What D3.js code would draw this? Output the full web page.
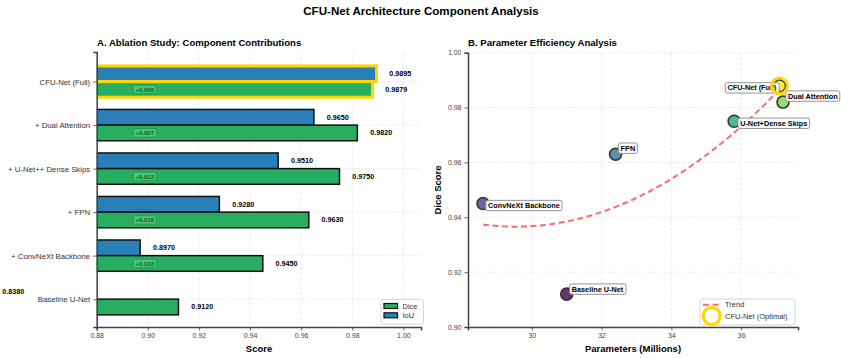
<!DOCTYPE html>
<html><head><meta charset="utf-8">
<script src="https://cdn.jsdelivr.net/npm/d3@7"></script>
<style>body{margin:0;background:#fff} svg{display:block;font-family:"Liberation Sans",Arial,sans-serif} text{fill:#000}</style>
</head><body><svg id="c" width="841" height="359"></svg>
<script>
// ---------- data ----------
const categories = ["Baseline U-Net", "+ ConvNeXt Backbone", "+ FPN", "+ U-Net++ Dense Skips", "+ Dual Attention", "CFU-Net (Full)"];
const diceValues = [0.912, 0.945, 0.963, 0.975, 0.982, 0.9879];
const iouValues  = [0.838, 0.897, 0.928, 0.951, 0.965, 0.9895];
const scoreTicks = [0.88, 0.90, 0.92, 0.94, 0.96, 0.98, 1.00];

const pointNames = ["Baseline U-Net", "ConvNeXt Backbone", "FPN", "U-Net+Dense Skips", "Dual Attention", "CFU-Net (Full)"];
const paramsMillions = [31.0, 28.6, 32.4, 35.8, 37.2, 37.1];
const pointDice = [0.912, 0.945, 0.963, 0.975, 0.982, 0.9879];
const paramTicks = [30, 32, 34, 36];
const diceTicks = [0.90, 0.92, 0.94, 0.96, 0.98, 1.00];

// ---------- layout / style ----------
const C = { dice: "#27ae60", iou: "#2980b9", gold: "#FFD700", spine: "#444", grid: "#dedede", trend: "#ff6b6b" };
const labelOffsets = [[5,-5,"start"],[5,2,"start"],[5,-6,"start"],[6,2,"start"],[5,-6,"start"],[-3,2,"end"]];

const svg = d3.select("#c");
svg.append("text").attr("x", 421).attr("y", 15).attr("text-anchor", "middle")
  .attr("font-size", 11.6).attr("font-weight", "bold").text("CFU-Net Architecture Component Analysis");

// ================= Panel A =================
const A = svg.append("g");
const xA = d3.scaleLinear().domain([0.88, 1.0069]).range([96.7, 421]);
const yA = d3.scaleLinear().domain([-0.64, 5.68]).range([327, 52]);
const bh = 0.36;

A.append("text").attr("x", 97).attr("y", 45.5).attr("font-size", 9.6).attr("font-weight", "bold")
  .text("A. Ablation Study: Component Contributions");

// grid
A.append("g").selectAll("line").data(scoreTicks).join("line")
  .attr("x1", d => xA(d)).attr("x2", d => xA(d)).attr("y1", 52).attr("y2", 327)
  .attr("stroke", C.grid).attr("stroke-width", 0.6).attr("stroke-dasharray", "3,2");
A.append("g").selectAll("line").data(categories).join("line")
  .attr("x1", 96.7).attr("x2", 421).attr("y1", (d,i) => yA(i)).attr("y2", (d,i) => yA(i))
  .attr("stroke", C.grid).attr("stroke-width", 0.6).attr("stroke-dasharray", "3,2");

A.append("clipPath").attr("id", "clipA").append("rect")
  .attr("x", 96.7).attr("y", 40).attr("width", 421 - 96.7).attr("height", 287);
const bars = A.append("g").attr("clip-path", "url(#clipA)");
const last = categories.length - 1;
bars.selectAll("rect.iou").data(iouValues).join("rect").attr("class", "iou")
  .attr("x", xA(0.88) - 2).attr("y", (d,i) => yA(i + bh))
  .attr("width", d => Math.max(0, xA(d) - xA(0.88) + 2)).attr("height", yA(0) - yA(bh))
  .attr("fill", C.iou).attr("stroke", (d,i) => i === last ? C.gold : "#111")
  .attr("stroke-width", (d,i) => i === last ? 3 : 1.5);
bars.selectAll("rect.dice").data(diceValues).join("rect").attr("class", "dice")
  .attr("x", xA(0.88) - 2).attr("y", (d,i) => yA(i))
  .attr("width", d => Math.max(0, xA(d) - xA(0.88) + 2)).attr("height", yA(0) - yA(bh))
  .attr("fill", C.dice).attr("stroke", (d,i) => i === last ? C.gold : "#111")
  .attr("stroke-width", (d,i) => i === last ? 3 : 1.5);

// value labels
const fmt4 = d3.format(".4f");
A.append("g").selectAll("text").data(iouValues).join("text")
  .attr("x", d => xA(d + 0.005)).attr("y", (d,i) => yA(i + bh/2) + 2.5)
  .attr("font-size", 7.2).attr("font-weight", "bold").attr("fill", "#000").text(d => fmt4(d));
A.append("g").selectAll("text").data(diceValues).join("text")
  .attr("x", d => xA(d + 0.005)).attr("y", (d,i) => yA(i - bh/2) + 2.5)
  .attr("font-size", 7.2).attr("font-weight", "bold").attr("fill", "#000").text(d => fmt4(d));

// improvement badges
const badgeData = diceValues.map((d,i) => i === 0 ? null : { i, v: d - diceValues[i-1] }).filter(Boolean);
const bg = A.append("g").selectAll("g").data(badgeData).join("g")
  .attr("transform", d => `translate(${xA(0.8988)},${yA(d.i - bh/2)})`);
bg.append("rect").attr("x", -11.5).attr("y", -4.2).attr("width", 23).attr("height", 8.4).attr("rx", 1.5)
  .attr("fill", "#5ccf84").attr("fill-opacity", 0.7).attr("stroke", "#1e8a47").attr("stroke-width", 0.7);
bg.append("text").attr("text-anchor", "middle").attr("y", 2.2).attr("font-size", 6).attr("font-weight", "bold")
  .style("fill", "#0b5d1e").text(d => "+" + d3.format(".3f")(d.v));

// axes
const axAx = A.append("g").attr("transform", "translate(0,327)")
  .call(d3.axisBottom(xA).tickValues(scoreTicks).tickFormat(d3.format(".2f")).tickSize(3.5).tickPadding(3));
const axAy = A.append("g").attr("transform", "translate(96.7,0)")
  .call(d3.axisLeft(yA).tickValues(d3.range(categories.length)).tickFormat(i => categories[i]).tickSize(3.5).tickPadding(3));
[axAx, axAy].forEach(g => {
  g.select(".domain").attr("stroke", C.spine).attr("stroke-width", 1.5);
  g.selectAll(".tick line").attr("stroke", "#444").attr("stroke-width", 0.8);
  g.selectAll(".tick text").style("fill", "#444").attr("font-family", "Liberation Sans, Arial, sans-serif");
});
axAx.selectAll(".tick text").attr("font-size", 7);
axAy.selectAll(".tick text").attr("font-size", 7.8).style("fill", "#333");
A.append("text").attr("x", 259).attr("y", 351.5).attr("text-anchor", "middle")
  .attr("font-size", 9.5).attr("font-weight", "bold").text("Score");

// legend A
const lgA = A.append("g").attr("transform", "translate(381,299.5)");
lgA.append("rect").attr("width", 42.5).attr("height", 24.5).attr("rx", 2).attr("fill", "#fff").attr("fill-opacity", 0.85)
  .attr("stroke", "#ccc").attr("stroke-width", 0.8);
[["Dice", C.dice], ["IoU", C.iou]].forEach((e, k) => {
  lgA.append("rect").attr("x", 3).attr("y", 4 + k * 9.3).attr("width", 13.5).attr("height", 5)
    .attr("fill", e[1]).attr("stroke", "#111").attr("stroke-width", 1.2);
  lgA.append("text").attr("x", 21.5).attr("y", 9.2 + k * 9.3).attr("font-size", 7.5).style("fill", "#333").text(e[0]);
});

// ================= Panel B =================
const B = svg.append("g");
const xB = d3.scaleLinear().domain([28.17, 37.63]).range([468, 798]);
const yB = d3.scaleLinear().domain([0.90, 1.00]).range([327, 52.7]);

B.append("text").attr("x", 468).attr("y", 45.5).attr("font-size", 9.6).attr("font-weight", "bold")
  .text("B. Parameter Efficiency Analysis");

B.append("g").selectAll("line").data(paramTicks).join("line")
  .attr("x1", d => xB(d)).attr("x2", d => xB(d)).attr("y1", 52.7).attr("y2", 327)
  .attr("stroke", C.grid).attr("stroke-width", 0.6).attr("stroke-dasharray", "3,2");
B.append("g").selectAll("line").data(diceTicks).join("line")
  .attr("x1", 468).attr("x2", 798).attr("y1", d => yB(d)).attr("y2", d => yB(d))
  .attr("stroke", C.grid).attr("stroke-width", 0.6).attr("stroke-dasharray", "3,2");

// quadratic trend fit (least squares) from data
function polyfit2(xs, ys) {
  const n = xs.length; let S = Array(5).fill(0), T = Array(3).fill(0);
  for (let i = 0; i < n; i++) { for (let k = 0; k < 5; k++) S[k] += Math.pow(xs[i], k); for (let k = 0; k < 3; k++) T[k] += ys[i] * Math.pow(xs[i], k); }
  const M = [[S[0],S[1],S[2],T[0]],[S[1],S[2],S[3],T[1]],[S[2],S[3],S[4],T[2]]];
  for (let c = 0; c < 3; c++) { for (let r = c + 1; r < 3; r++) { const f = M[r][c] / M[c][c]; for (let k = c; k < 4; k++) M[r][k] -= f * M[c][k]; } }
  const a = [0,0,0];
  for (let r = 2; r >= 0; r--) { let s = M[r][3]; for (let k = r + 1; k < 3; k++) s -= M[r][k] * a[k]; a[r] = s / M[r][r]; }
  return x => a[0] + a[1] * x + a[2] * x * x;
}
const fit = polyfit2(paramsMillions, pointDice);
const [pmin, pmax] = d3.extent(paramsMillions);
const trendX = d3.range(0, 101).map(k => pmin + (pmax - pmin) * k / 100);
B.append("path").datum(trendX)
  .attr("d", d3.line().x(d => xB(d)).y(d => yB(fit(d))))
  .attr("fill", "none").attr("stroke", C.trend).attr("stroke-width", 2).attr("stroke-dasharray", "6,3.5");

// points
const colorOf = i => d3.interpolateViridis(i / (pointNames.length - 1));
B.append("g").selectAll("circle").data(paramsMillions).join("circle")
  .attr("cx", d => xB(d)).attr("cy", (d,i) => yB(pointDice[i])).attr("r", 6)
  .attr("fill", (d,i) => colorOf(i)).attr("fill-opacity", 0.8).attr("stroke", "#333").attr("stroke-width", 1.6);

// labels
const lab = B.append("g").selectAll("g").data(pointNames).join("g")
  .attr("transform", (d,i) => `translate(${xB(paramsMillions[i]) + labelOffsets[i][0]},${yB(pointDice[i]) + labelOffsets[i][1]})`);
lab.append("text").attr("text-anchor", (d,i) => labelOffsets[i][2]).attr("y", 2.6)
  .attr("font-size", 7.3).attr("font-weight", "bold").style("fill", "#000").text(d => d);
lab.each(function() {
  const g = d3.select(this), bb = g.select("text").node().getBBox();
  g.insert("rect", "text").attr("x", bb.x - 2.2).attr("y", -5.2).attr("width", bb.width + 4.4).attr("height", 10.4)
    .attr("rx", 2).attr("fill", "#fff").attr("fill-opacity", 0.92).attr("stroke", "#888").attr("stroke-width", 0.9);
});

// highlight ring on best
const best = pointNames.length - 1;
B.append("circle").attr("cx", xB(paramsMillions[best])).attr("cy", yB(pointDice[best])).attr("r", 7.8)
  .attr("fill", "none").attr("stroke", C.gold).attr("stroke-width", 3);

// axes
const axBx = B.append("g").attr("transform", "translate(0,327)")
  .call(d3.axisBottom(xB).tickValues(paramTicks).tickFormat(d3.format("d")).tickSize(3.5).tickPadding(3));
const axBy = B.append("g").attr("transform", "translate(468,0)")
  .call(d3.axisLeft(yB).tickValues(diceTicks).tickFormat(d3.format(".2f")).tickSize(3.5).tickPadding(3));
[axBx, axBy].forEach(g => {
  g.select(".domain").attr("stroke", C.spine).attr("stroke-width", 1.5);
  g.selectAll(".tick line").attr("stroke", "#444").attr("stroke-width", 0.8);
  g.selectAll(".tick text").style("fill", "#444").attr("font-size", 7).attr("font-family", "Liberation Sans, Arial, sans-serif");
});
B.append("text").attr("x", 633).attr("y", 351.5).attr("text-anchor", "middle")
  .attr("font-size", 9.5).attr("font-weight", "bold").text("Parameters (Millions)");
B.append("text").attr("transform", "translate(441,190) rotate(-90)").attr("text-anchor", "middle")
  .attr("font-size", 9.5).attr("font-weight", "bold").text("Dice Score");

// legend B
const lgB = B.append("g").attr("transform", "translate(700,299)");
lgB.append("rect").attr("width", 95).attr("height", 26).attr("rx", 2).attr("fill", "#fff").attr("fill-opacity", 0.85)
  .attr("stroke", "#ccc").attr("stroke-width", 0.8);
lgB.append("line").attr("x1", 3).attr("x2", 19).attr("y1", 5.7).attr("y2", 5.7)
  .attr("stroke", C.trend).attr("stroke-width", 2).attr("stroke-dasharray", "6,3.5");
lgB.append("text").attr("x", 25).attr("y", 8.3).attr("font-size", 7.5).style("fill", "#333").text("Trend");
lgB.append("circle").attr("cx", 11.7).attr("cy", 17).attr("r", 8.5).attr("fill", "none")
  .attr("stroke", C.gold).attr("stroke-width", 3.2);
lgB.append("text").attr("x", 25).attr("y", 19.5).attr("font-size", 7.5).style("fill", "#333").text("CFU-Net (Optimal)");
</script></body></html>
